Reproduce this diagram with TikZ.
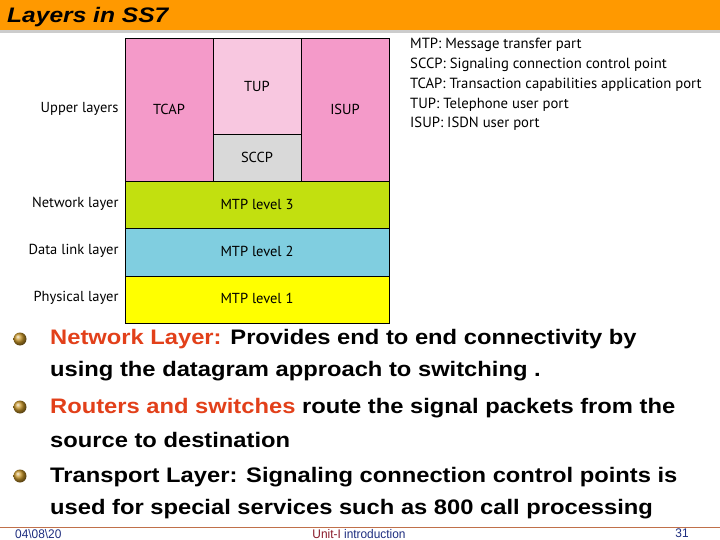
\documentclass[tikz,border=0pt]{standalone}
\usepackage{fontspec}
\setmainfont{Liberation Sans}
\newfontfamily\dfont{PT Sans}
\definecolor{barorange}{HTML}{FF9900}
\definecolor{pinkA}{HTML}{F49AC9}
\definecolor{pinkB}{HTML}{F8C7E0}
\definecolor{sccpgray}{HTML}{D9D9D9}
\definecolor{mtpthree}{HTML}{C2E00F}
\definecolor{mtptwo}{HTML}{80CEE0}
\definecolor{mtpone}{HTML}{FFFF00}
\definecolor{hilite}{HTML}{E2401A}
\definecolor{footline}{HTML}{C0704A}
\definecolor{navy}{HTML}{1F2F80}
\definecolor{darkred}{HTML}{8A1A2A}
\begin{document}
\begin{tikzpicture}[x=1pt,y=-1pt,
  blk/.style={draw=black,line width=0.8pt},
  btext/.style={font=\dfont\fontsize{14.5}{17}\selectfont},
  lbl/.style={anchor=east,font=\dfont\fontsize{14.5}{17}\selectfont},
  leg/.style={anchor=west,font=\dfont\fontsize{14.7}{17}\selectfont,inner sep=0},
  btxt/.style={anchor=west,font=\bfseries\fontsize{21}{24}\addfontfeature{FakeStretch=1.13}\selectfont,inner sep=0},
  foot/.style={font=\fontsize{12.5}{14}\selectfont,inner sep=0}]
\useasboundingbox (0,0) rectangle (720,540);
\fill[white] (0,0) rectangle (720,540);
% title bar
\fill[gray!40] (0,30) rectangle (720,33);
\fill[barorange] (0,0) rectangle (720,30.5);
\node[anchor=west,font=\bfseries\itshape\fontsize{21}{24}\addfontfeature{FakeStretch=1.17}\selectfont,inner sep=0] (title) at (7,17) {Layers in SS7};
% stack
\draw[blk,fill=pinkA] (125,38) rectangle (213,181);
\node[btext] (tcap) at (169,109) {TCAP};
\draw[blk,fill=pinkB] (213,38) rectangle (301,134);
\node[btext] (tup) at (257,86) {TUP};
\draw[blk,fill=sccpgray] (213,134) rectangle (301,181);
\node[btext] (sccp) at (257,157) {SCCP};
\draw[blk,fill=pinkA] (301,38) rectangle (389,181);
\node[btext] (isup) at (345,109) {ISUP};
\draw[blk,fill=mtpthree] (125,181) rectangle (389,228);
\node[btext] (m3) at (257,204) {MTP level 3};
\draw[blk,fill=mtptwo] (125,228) rectangle (389,276);
\node[btext] (m2) at (257,251) {MTP level 2};
\draw[blk,fill=mtpone] (125,276) rectangle (389,323);
\node[btext] (m1) at (257,298) {MTP level 1};
% side labels
\node[lbl] (ul) at (122,109) {Upper layers};
\node[lbl] (nl) at (122,204) {Network layer};
\node[lbl] (dl) at (122,251) {Data link layer};
\node[lbl] (pl) at (122,298) {Physical layer};
% legend
\node[leg] (l1) at (410,45) {MTP: Message transfer part};
\node[leg] (l2) at (410,65) {SCCP: Signaling connection control point};
\node[leg] (l3) at (410,85) {TCAP: Transaction capabilities application port};
\node[leg] (l4) at (410,105) {TUP: Telephone user port};
\node[leg] (l5) at (410,124) {ISUP: ISDN user port};
% bullets
\foreach \yy in {339,407,476}{
  \shade[ball color={rgb,255:red,200;green,150;blue,40}] (20,\yy) circle (6.5);
}
\node[btxt] (b1a) at (50,339) {\textcolor{hilite}{Network Layer:} Provides end to end connectivity by};
\node[btxt] (b1b) at (50,371) {using the datagram approach to switching .};
\node[btxt] (b2a) at (50,408) {\textcolor{hilite}{Routers and switches} route the signal packets from the};
\node[btxt] (b2b) at (50,440) {source to destination};
\node[btxt] (b3a) at (50,477) {Transport Layer: Signaling connection control points is};
\node[btxt] (b3b) at (50,509) {used for special services such as 800 call processing};
% footer
\draw[footline,line width=0.8pt] (0,527.5) -- (720,527.5);
\node[foot,anchor=west,text=navy] (date) at (15,534) {\addfontfeature{FakeStretch=0.95}04\textbackslash 08\textbackslash 20};
\node[foot,text=navy] (unit) at (359,534) {\addfontfeature{FakeStretch=0.95}\textcolor{darkred}{Unit-I} introduction};
\node[foot,text=navy] (pg) at (682,533) {\addfontfeature{FakeStretch=0.95}31};
\end{tikzpicture}
\end{document}
